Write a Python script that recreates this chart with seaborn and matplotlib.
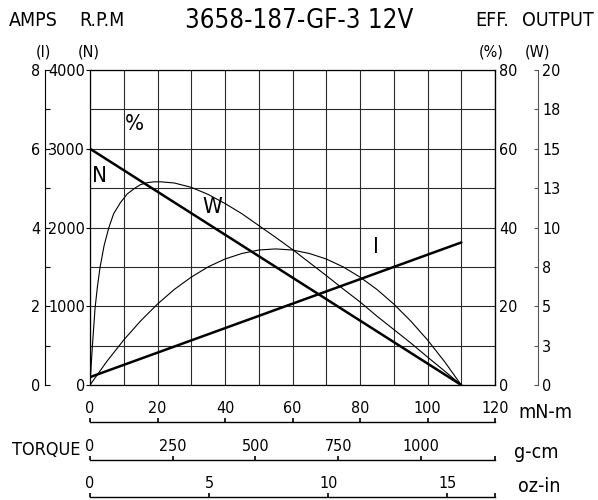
import matplotlib
matplotlib.use('Agg')
import matplotlib.pyplot as plt
import seaborn as sns
import pandas as pd

# Speed (N) and current (I) vs torque, mN-m
torque_n = [0, 110]
speed_rpm = [3000, 0]

torque_i = [0, 110]
current_a = [0.2, 3.62]

# Efficiency (%) vs torque
torque_eff = [0, 0.35, 0.7, 1.0, 1.5, 2.2, 3, 4.2, 5.6, 7, 9, 11, 13.3, 15, 17,
              19, 21, 25, 30, 35, 40, 45, 50, 55, 60, 65, 70, 75, 80, 85, 90,
              95, 100, 105, 110]
eff_pct = [0, 5, 9.7, 13.5, 19.5, 25, 30, 35.5, 40, 43.5, 46.3, 48.5, 50, 50.9,
           51.4, 51.6, 51.6, 51.3, 50.2, 48.4, 46.1, 43.5, 40.5, 37.5, 34.4,
           31.1, 27.8, 24.4, 21.1, 17.5, 14.1, 10.7, 7.1, 3.6, 0]

# Output power (W) vs torque
torque_w = [0, 5, 10, 15, 20, 25, 30, 35, 40, 45, 50, 55, 60, 65, 70, 75, 80,
            85, 90, 95, 100, 105, 110]
output_w = [0, 1.5, 2.86, 4.07, 5.14, 6.07, 6.85, 7.5, 8.0, 8.35, 8.57, 8.64,
            8.57, 8.35, 8.0, 7.5, 6.85, 6.07, 5.14, 4.07, 2.86, 1.5, 0]

rpm_ticks = [0, 1000, 2000, 3000, 4000]
amp_ticks = [0, 2, 4, 6, 8]
eff_ticks = [0, 20, 40, 60, 80]
w_ticks = [0, 2.5, 5, 7.5, 10, 12.5, 15, 17.5, 20]
w_labels = ['0', '3', '5', '8', '10', '13', '15', '18', '20']
mnm_ticks = [0, 20, 40, 60, 80, 100, 120]
gcm_ticks = [0, 250, 500, 750, 1000]
ozin_ticks = [0, 5, 10, 15]

sns.set_style('white')
plt.rcParams['font.family'] = ['DejaVu Sans']
plt.rcParams['font.stretch'] = 'condensed'
plt.rcParams['text.color'] = 'k'
plt.rcParams['xtick.color'] = 'k'
plt.rcParams['ytick.color'] = 'k'

W, H = 598, 500
fig = plt.figure(figsize=(W / 100, H / 100), dpi=100)


def px(x, y):
    return x / W, 1 - y / H


def pt(p):
    return p * 0.72


TICK = 11.5
ax = fig.add_axes([90 / W, 115 / H, 405 / W, 315 / H])
ax.set_xlim(0, 120)
ax.set_ylim(0, 4000)
ax.set_xticks(range(0, 121, 10))
ax.set_xticklabels([])
ax.tick_params(axis='x', length=0)
ax.set_yticks(rpm_ticks)
ax.set_yticks(range(500, 4000, 1000), minor=True)
ax.tick_params(axis='y', which='major', length=pt(4), width=0.8, pad=pt(1),
               labelsize=TICK, color='k', direction='out', left=True)
ax.tick_params(axis='y', which='minor', length=0)
ax.grid(True, which='both', color='#2a2a2a', lw=0.8)
for s in ax.spines.values():
    s.set_color('k')
    s.set_linewidth(0.9)

df_n = pd.DataFrame({'torque': torque_n, 'speed': speed_rpm})
sns.lineplot(data=df_n, x='torque', y='speed', ax=ax, color='k', lw=1.8)
ax.set_xlabel('')
ax.set_ylabel('')

# current axis (far left)
ax_amp = ax.twinx()
ax_amp.set_ylim(0, 8)
df_i = pd.DataFrame({'torque': torque_i, 'amps': current_a})
sns.lineplot(data=df_i, x='torque', y='amps', ax=ax_amp, color='k', lw=1.8)
ax_amp.yaxis.set_ticks_position('left')
ax_amp.yaxis.set_label_position('left')
ax_amp.spines['left'].set_visible(True)
ax_amp.spines['left'].set_color('k')
ax_amp.spines['left'].set_position(('outward', pt(45)))
for s in ['right', 'top', 'bottom']:
    ax_amp.spines[s].set_visible(False)
ax_amp.set_yticks(amp_ticks)
ax_amp.set_yticks([1, 3, 5, 7], minor=True)
ax_amp.tick_params(axis='y', which='both', direction='in', length=pt(5),
                   width=0.8, pad=pt(5), labelsize=TICK)
ax_amp.tick_params(axis='x', length=0, labelbottom=False)
ax_amp.set_xlabel('')
ax_amp.set_ylabel('')

# efficiency axis (right spine)
ax_eff = ax.twinx()
ax_eff.set_ylim(0, 80)
df_e = pd.DataFrame({'torque': torque_eff, 'eff': eff_pct})
sns.lineplot(data=df_e, x='torque', y='eff', ax=ax_eff, color='k', lw=0.8)
ax_eff.set_yticks(eff_ticks)
ax_eff.tick_params(axis='y', length=0, pad=pt(4), labelsize=TICK)
ax_eff.tick_params(axis='x', length=0, labelbottom=False)
for s in ['left', 'top', 'bottom']:
    ax_eff.spines[s].set_visible(False)
ax_eff.spines['right'].set_color('k')
ax_eff.set_xlabel('')
ax_eff.set_ylabel('')

# output axis (outer right)
ax_w = ax.twinx()
ax_w.set_ylim(0, 20)
df_w = pd.DataFrame({'torque': torque_w, 'watts': output_w})
sns.lineplot(data=df_w, x='torque', y='watts', ax=ax_w, color='k', lw=0.8)
ax_w.spines['right'].set_position(('outward', pt(43)))
ax_w.spines['right'].set_color('#555555')
for s in ['left', 'top', 'bottom']:
    ax_w.spines[s].set_visible(False)
ax_w.set_yticks(w_ticks)
ax_w.set_yticklabels(w_labels)
ax_w.tick_params(axis='y', direction='in', length=pt(4), width=0.8,
                 color='#555555', labelcolor='k', pad=pt(4), labelsize=TICK)
ax_w.tick_params(axis='x', length=0, labelbottom=False)
ax_w.set_xlabel('')
ax_w.set_ylabel('')


# torque scales below the chart
def torque_scale(y_line, xmax, ticks, end_tick):
    a = fig.add_axes([90 / W, (H - y_line) / H - 0.0001, 405 / W, 0.0001])
    a.patch.set_visible(False)
    a.set_xlim(0, xmax)
    for s in ['left', 'right', 'bottom']:
        a.spines[s].set_visible(False)
    a.spines['top'].set_linewidth(1.0)
    a.spines['top'].set_color('k')
    a.set_yticks([])
    locs = list(ticks) + ([xmax] if end_tick else [])
    labs = [str(t) for t in ticks] + ([''] if end_tick else [])
    a.set_xticks(locs)
    a.set_xticklabels(labs)
    a.xaxis.set_ticks_position('top')
    a.tick_params(axis='x', direction='out', length=pt(4), width=1.2,
                  pad=pt(2), labelsize=TICK)
    return a


torque_scale(422, 120, mnm_ticks, False)
torque_scale(460, 120 * 10.197, gcm_ticks, True)
torque_scale(497, 120 * 0.14161, ozin_ticks, True)

# header and unit texts
fig.text(*px(9, 21), 'AMPS', fontsize=14, va='center', ha='left')
fig.text(*px(79, 21), 'R.P.M', fontsize=14, va='center', ha='left')
fig.text(*px(299, 21), '3658-187-GF-3 12V', fontsize=18.5, va='center', ha='center')
fig.text(*px(475, 21), 'EFF.', fontsize=14, va='center', ha='left')
fig.text(*px(594, 21), 'OUTPUT', fontsize=14, va='center', ha='right')
fig.text(*px(43, 52), '(I)', fontsize=11.5, va='center', ha='center')
fig.text(*px(89, 52), '(N)', fontsize=11.5, va='center', ha='center')
fig.text(*px(491, 52), '(%)', fontsize=11.5, va='center', ha='center')
fig.text(*px(538, 52), '(W)', fontsize=11.5, va='center', ha='center')
fig.text(*px(518, 412), 'mN-m', fontsize=14, va='center', ha='left')
fig.text(*px(514, 452), 'g-cm', fontsize=14, va='center', ha='left')
fig.text(*px(518, 487), 'oz-in', fontsize=14, va='center', ha='left')
fig.text(*px(80, 450), 'TORQUE', fontsize=13, va='center', ha='right')

# curve labels
ax.text(13.2, 3314, '%', fontsize=16, ha='center', va='center')
ax.text(2.7, 2654, 'N', fontsize=16, ha='center', va='center')
ax.text(36.1, 2260, 'W', fontsize=16, ha='center', va='center')
ax.text(84.7, 1752, 'I', fontsize=16, ha='center', va='center')

fig.savefig('out.png', dpi=100)
